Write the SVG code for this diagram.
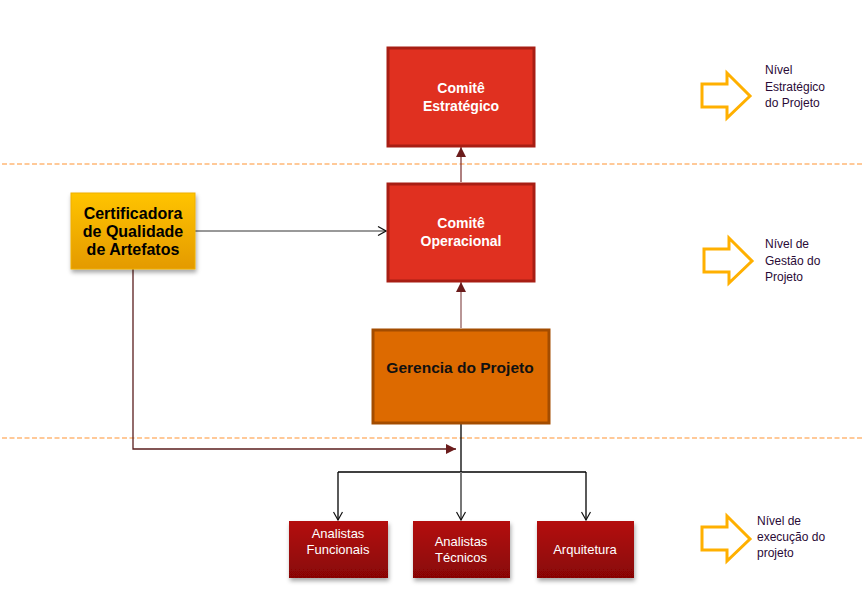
<svg xmlns="http://www.w3.org/2000/svg" width="864" height="603" viewBox="0 0 864 603">
<defs>
<linearGradient id="gY" x1="0" y1="0" x2="0" y2="1"><stop offset="0" stop-color="#FFC400"/><stop offset="1" stop-color="#E49A00"/></linearGradient>
<linearGradient id="gR" x1="0" y1="0" x2="0" y2="1"><stop offset="0" stop-color="#B40C0C"/><stop offset="1" stop-color="#880606"/></linearGradient>
<filter id="sh" x="-10%" y="-10%" width="130%" height="140%"><feDropShadow dx="1" dy="3" stdDeviation="2" flood-color="#000" flood-opacity="0.35"/></filter>
<marker id="mFill" viewBox="0 0 10 10" refX="10" refY="5" markerWidth="10" markerHeight="10" markerUnits="userSpaceOnUse" orient="auto"><path d="M0,0 L10,5 L0,10 z" fill="#6B1C1C"/></marker>
<marker id="mOpen" viewBox="0 0 10 10" refX="9" refY="5" markerWidth="10" markerHeight="10" markerUnits="userSpaceOnUse" orient="auto"><path d="M1,0.5 L9,5 L1,9.5" fill="none" stroke="#111" stroke-width="1.2"/></marker>
</defs>
<style>
.dash{stroke:#FFB877;stroke-width:1.5;stroke-dasharray:5 2.5;fill:none}
.red{fill:#E03020;stroke:#A81E14;stroke-width:3}
.wt{font-family:"Liberation Sans",Arial,sans-serif;font-weight:bold;font-size:14px;fill:#fff;text-anchor:middle}
.bt{font-family:"Liberation Sans",Arial,sans-serif;font-weight:bold;font-size:16px;fill:#000;text-anchor:middle}
.st{font-family:"Liberation Sans",Arial,sans-serif;font-size:13px;fill:#fff;text-anchor:middle}
.lv{font-family:"Liberation Sans",Arial,sans-serif;font-size:12px;fill:#2A0A36}
.blk{fill:none;stroke:#FFB000;stroke-width:3}
.con{fill:none}
</style>
<rect width="864" height="603" fill="#fff"/>
<line class="dash" x1="2" y1="164" x2="862" y2="164"/>
<line class="dash" x1="2" y1="438" x2="862" y2="438"/>

<g id="connectors" class="con">
<line x1="461" y1="182" x2="461" y2="147" stroke="#7A2A2A" stroke-width="1.2" marker-end="url(#mFill)"/>
<line x1="461" y1="328" x2="461" y2="282" stroke="#8A5050" stroke-width="1.2" marker-end="url(#mFill)"/>
<line x1="195" y1="231" x2="291" y2="231" stroke="#333" stroke-width="1"/>
<line x1="291" y1="231" x2="386" y2="231" stroke="#777" stroke-width="1.5" marker-end="url(#mOpen)"/>
<polyline points="133,269 133,449 456,449" stroke="#5A1E1E" stroke-width="1.3" marker-end="url(#mFill)"/>
<line x1="461" y1="424" x2="461" y2="472" stroke="#000" stroke-width="1.3"/>
<line x1="338" y1="472" x2="586" y2="472" stroke="#000" stroke-width="1.3"/>
<line x1="338" y1="472" x2="338" y2="520" stroke="#000" stroke-width="1.3" marker-end="url(#mOpen)"/>
<line x1="461" y1="472" x2="461" y2="520" stroke="#777" stroke-width="2" marker-end="url(#mOpen)"/>
<line x1="586" y1="472" x2="586" y2="520" stroke="#000" stroke-width="1.3" marker-end="url(#mOpen)"/>
</g>

<g id="comite-estrategico">
<rect class="red" x="388" y="48" width="146" height="98"/>
<text class="wt" x="461" y="93">Comitê</text>
<text class="wt" x="461" y="111">Estratégico</text>
</g>
<g id="comite-operacional">
<rect class="red" x="388" y="184" width="146" height="97"/>
<text class="wt" x="461" y="228">Comitê</text>
<text class="wt" x="461" y="246">Operacional</text>
</g>
<g id="gerencia">
<rect x="373" y="330" width="176" height="93" fill="#DD6A00" stroke="#A34C00" stroke-width="3"/>
<text x="460" y="373" font-family="'Liberation Sans',Arial,sans-serif" font-weight="bold" font-size="15.5" fill="#111" text-anchor="middle">Gerencia do Projeto</text>
</g>
<g id="certificadora">
<rect x="71" y="193" width="124" height="76" fill="url(#gY)" stroke="#F0B000" stroke-width="1" filter="url(#sh)"/>
<text class="bt" x="133" y="219">Certificadora</text>
<text class="bt" x="133" y="237">de Qualidade</text>
<text class="bt" x="133" y="255">de Artefatos</text>
</g>
<g id="analistas-funcionais">
<rect x="289" y="521" width="99" height="57" fill="url(#gR)" filter="url(#sh)"/>
<text class="st" x="338" y="538">Analistas</text>
<text class="st" x="338" y="554">Funcionais</text>
</g>
<g id="analistas-tecnicos">
<rect x="413" y="521" width="97" height="57" fill="url(#gR)" filter="url(#sh)"/>
<text class="st" x="461" y="546">Analistas</text>
<text class="st" x="461" y="562">Técnicos</text>
</g>
<g id="arquitetura">
<rect x="537" y="521" width="97" height="57" fill="url(#gR)" filter="url(#sh)"/>
<text class="st" x="585" y="554">Arquitetura</text>
</g>

<g id="nivel-estrategico">
<path class="blk" d="M702,84 L727,84 L727,73 L750,96 L727,118 L727,107 L702,107 Z"/>
<text class="lv" x="765" y="74">Nível</text>
<text class="lv" x="765" y="91">Estratégico</text>
<text class="lv" x="765" y="107">do Projeto</text>
</g>
<g id="nivel-gestao">
<path class="blk" d="M704,249 L729,249 L729,238 L752,261 L729,283 L729,272 L704,272 Z"/>
<text class="lv" x="765" y="248">Nível de</text>
<text class="lv" x="765" y="265">Gestão do</text>
<text class="lv" x="765" y="281">Projeto</text>
</g>
<g id="nivel-execucao">
<path class="blk" d="M702,527 L727,527 L727,516 L750,539 L727,561 L727,550 L702,550 Z"/>
<text class="lv" x="757" y="525">Nível de</text>
<text class="lv" x="757" y="541">execução do</text>
<text class="lv" x="757" y="557">projeto</text>
</g>
</svg>
